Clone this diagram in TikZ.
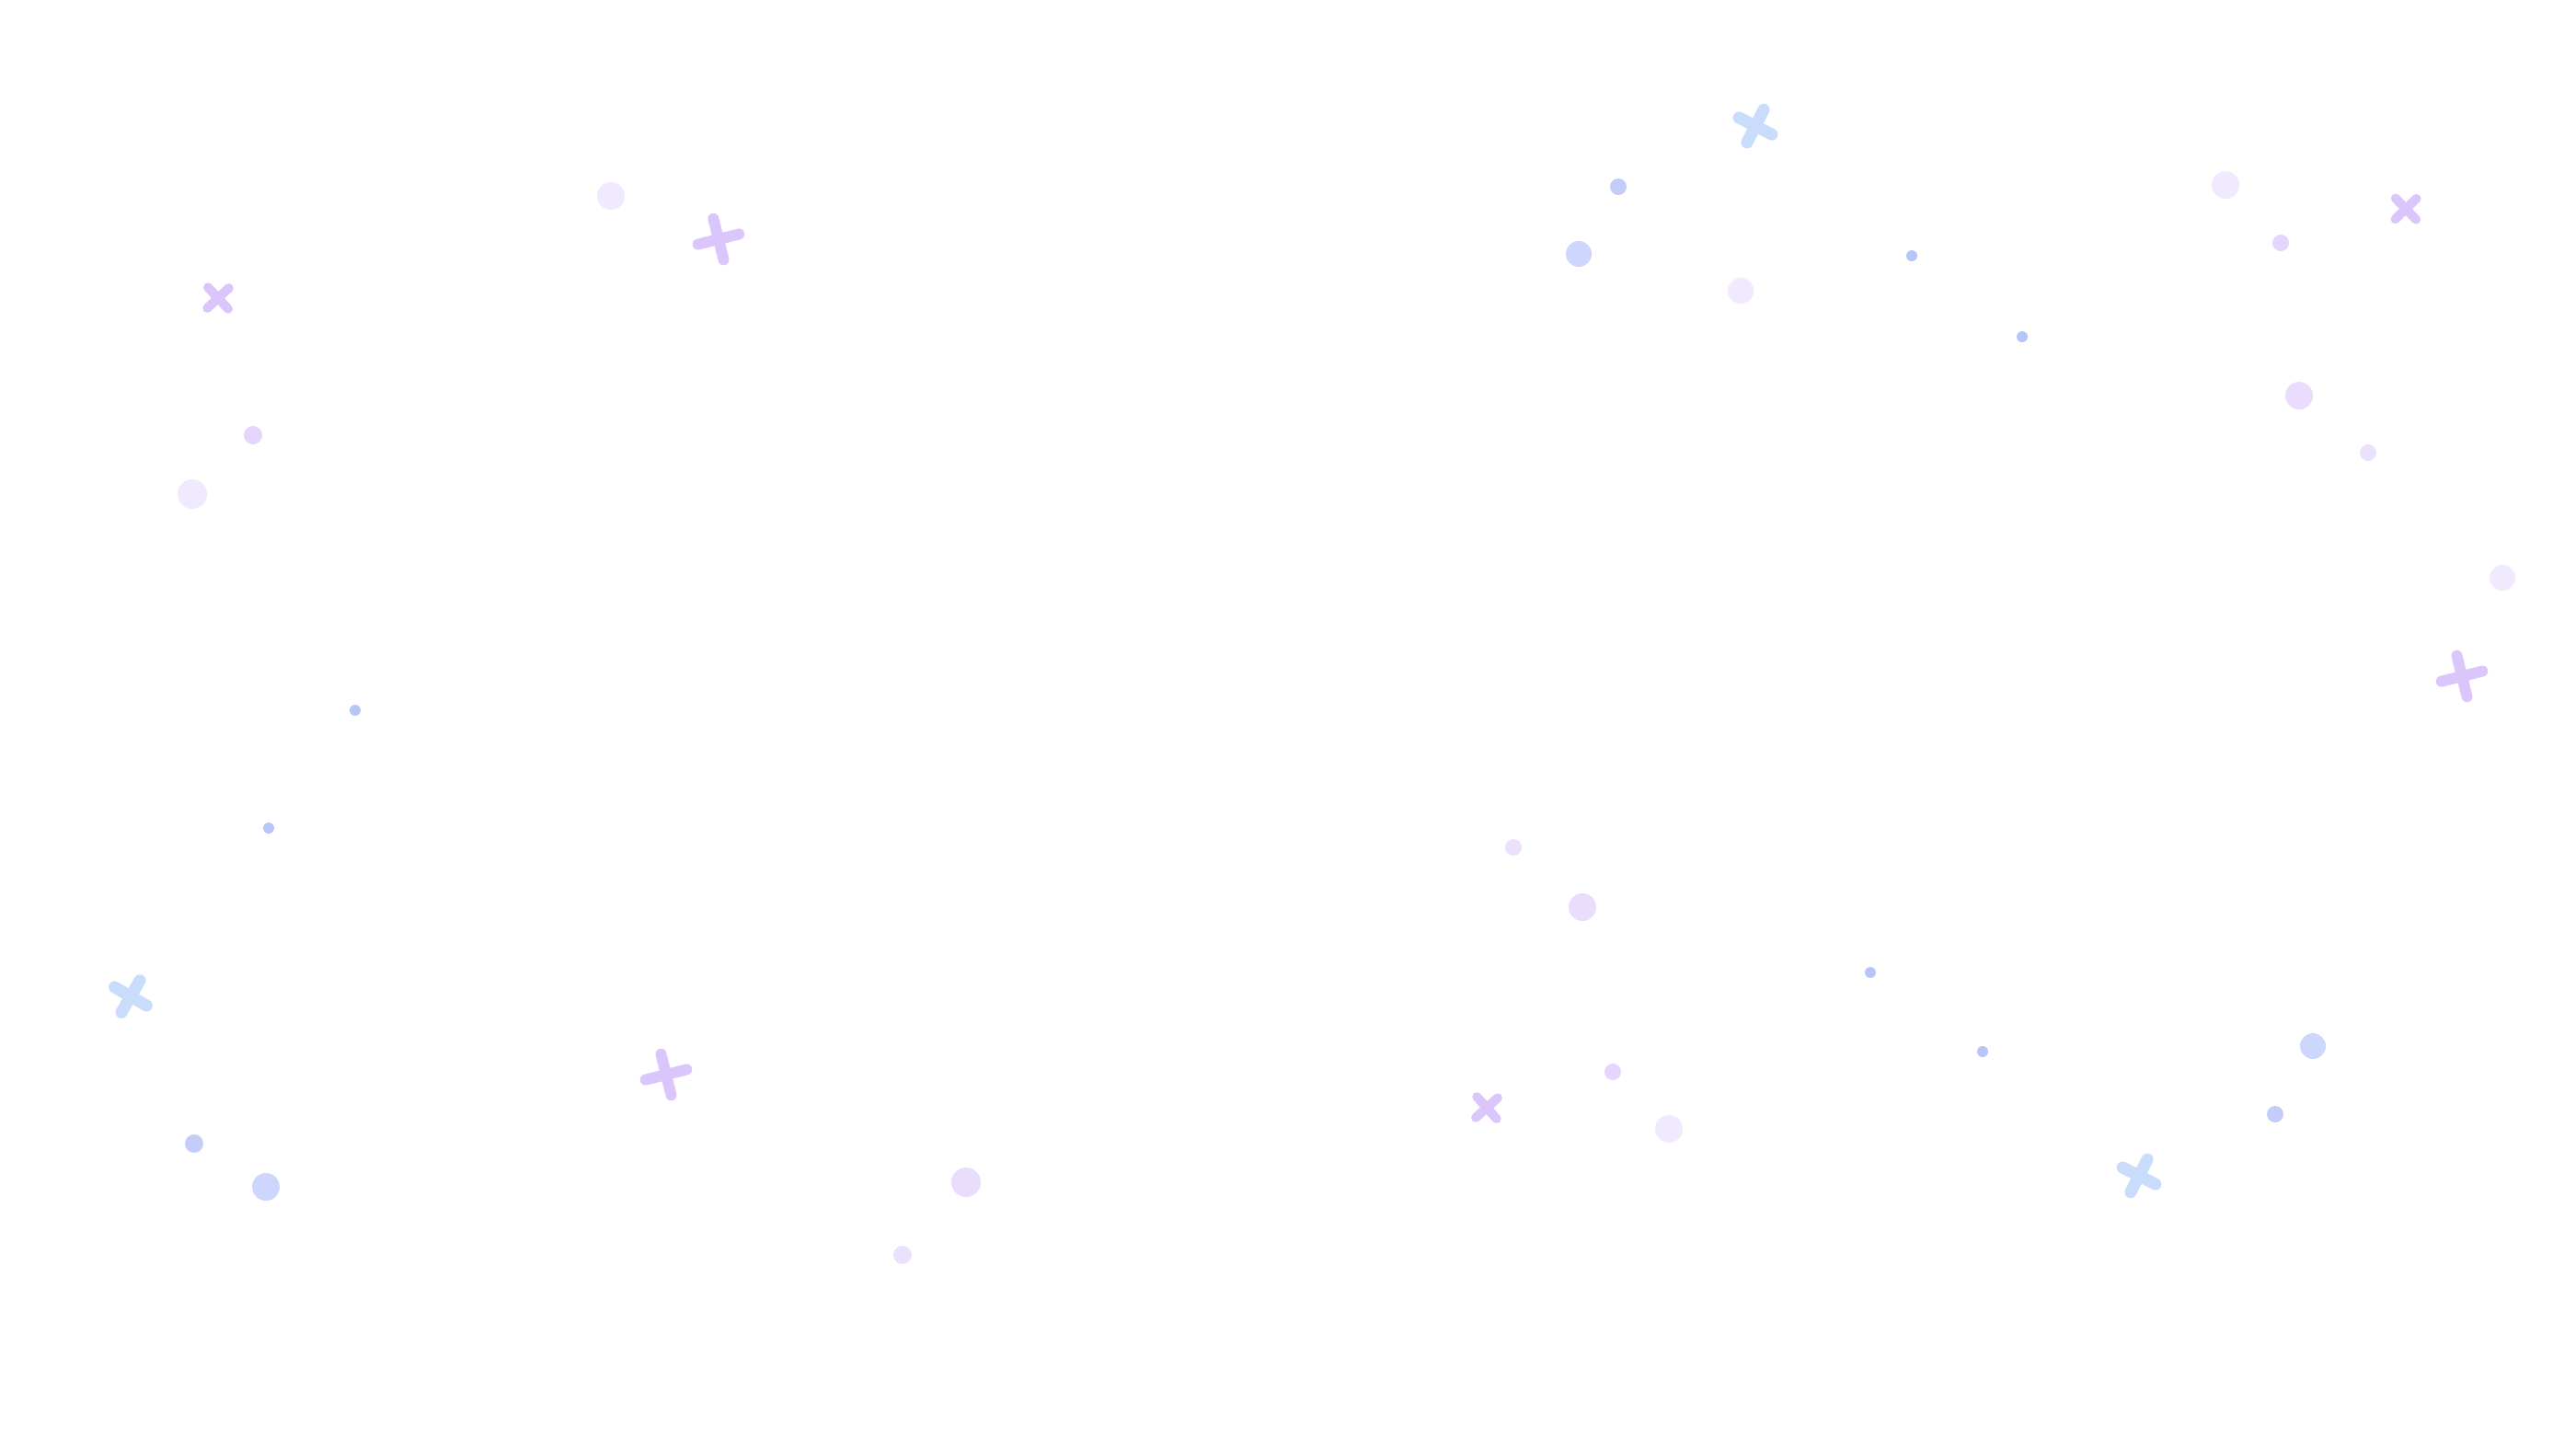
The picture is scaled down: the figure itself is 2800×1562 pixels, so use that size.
\documentclass[tikz,border=0pt]{standalone}
\usepackage{tikz}
\definecolor{crossblue}{HTML}{C9DCFC}
\definecolor{crossviolet}{HTML}{DBC6FB}
\definecolor{blueA}{HTML}{CDD6FD}
\definecolor{blueB}{HTML}{C4CDF9}
\definecolor{blueC}{HTML}{B8C5F8}
\definecolor{lilacA}{HTML}{E5D5FC}
\definecolor{lilacB}{HTML}{E9DCFD}
\definecolor{lilacC}{HTML}{ECE1FD}
\definecolor{lilacD}{HTML}{F1E9FE}

\begin{document}
\begin{tikzpicture}[x=0.01cm, y=-0.01cm,
  bigspark/.style={draw=crossblue, line width=3.7pt, line cap=round},
  plusspark/.style={draw=crossviolet, line width=3.4pt, line cap=round},
  xspark/.style={draw=crossviolet, line width=2.85pt, line cap=round}]
  \fill[white] (0,0) rectangle (2800,1562);
  \useasboundingbox (0,0) rectangle (2800,1562);
  \draw[xspark, shift={(237,324)}, rotate=-47] (-16,0) -- (16,0) (0,-16) -- (0,16);
  \draw[plusspark, shift={(781,260)}, rotate=14] (-23,0) -- (23,0) (0,-23) -- (0,23);
  \draw[bigspark, shift={(1908,137)}, rotate=-27] (-20,0) -- (20,0) (0,-20) -- (0,20);
  \draw[xspark, shift={(2615,227)}, rotate=-46] (-16,0) -- (16,0) (0,-16) -- (0,16);
  \draw[plusspark, shift={(2676,735)}, rotate=14] (-23,0) -- (23,0) (0,-23) -- (0,23);
  \draw[bigspark, shift={(142,1083)}, rotate=-30] (-20,0) -- (20,0) (0,-20) -- (0,20);
  \draw[plusspark, shift={(724,1168)}, rotate=14] (-23,0) -- (23,0) (0,-23) -- (0,23);
  \draw[xspark, shift={(1616,1204)}, rotate=-48] (-16,0) -- (16,0) (0,-16) -- (0,16);
  \draw[bigspark, shift={(2325,1278)}, rotate=-27] (-20,0) -- (20,0) (0,-20) -- (0,20);
  \fill[lilacD] (664,213) circle (15);
  \fill[lilacD] (209,537) circle (16);
  \fill[lilacD] (1892,316) circle (14);
  \fill[lilacD] (2419,201) circle (15);
  \fill[lilacD] (2720,628) circle (14);
  \fill[lilacD] (1814,1227) circle (15);
  \fill[lilacC] (981,1364) circle (10);
  \fill[lilacC] (2574,492) circle (9);
  \fill[lilacC] (1645,921) circle (9);
  \fill[lilacA] (275,473) circle (10);
  \fill[lilacA] (2479,264) circle (9);
  \fill[lilacA] (1753,1165) circle (9);
  \fill[lilacB] (1050,1285) circle (16);
  \fill[lilacB] (2499,430) circle (15);
  \fill[lilacB] (1720,986) circle (15);
  \fill[blueA] (289,1290) circle (15);
  \fill[blueA] (1716,276) circle (14);
  \fill[blueA] (2514,1137) circle (14);
  \fill[blueB] (211,1243) circle (10);
  \fill[blueB] (1759,203) circle (9);
  \fill[blueB] (2473,1211) circle (9);
  \fill[blueC] (386,772) circle (6);
  \fill[blueC] (292,900) circle (6);
  \fill[blueC] (2078,278) circle (6);
  \fill[blueC] (2198,366) circle (6);
  \fill[blueC] (2033,1057) circle (6);
  \fill[blueC] (2155,1143) circle (6);
\end{tikzpicture}
\end{document}
